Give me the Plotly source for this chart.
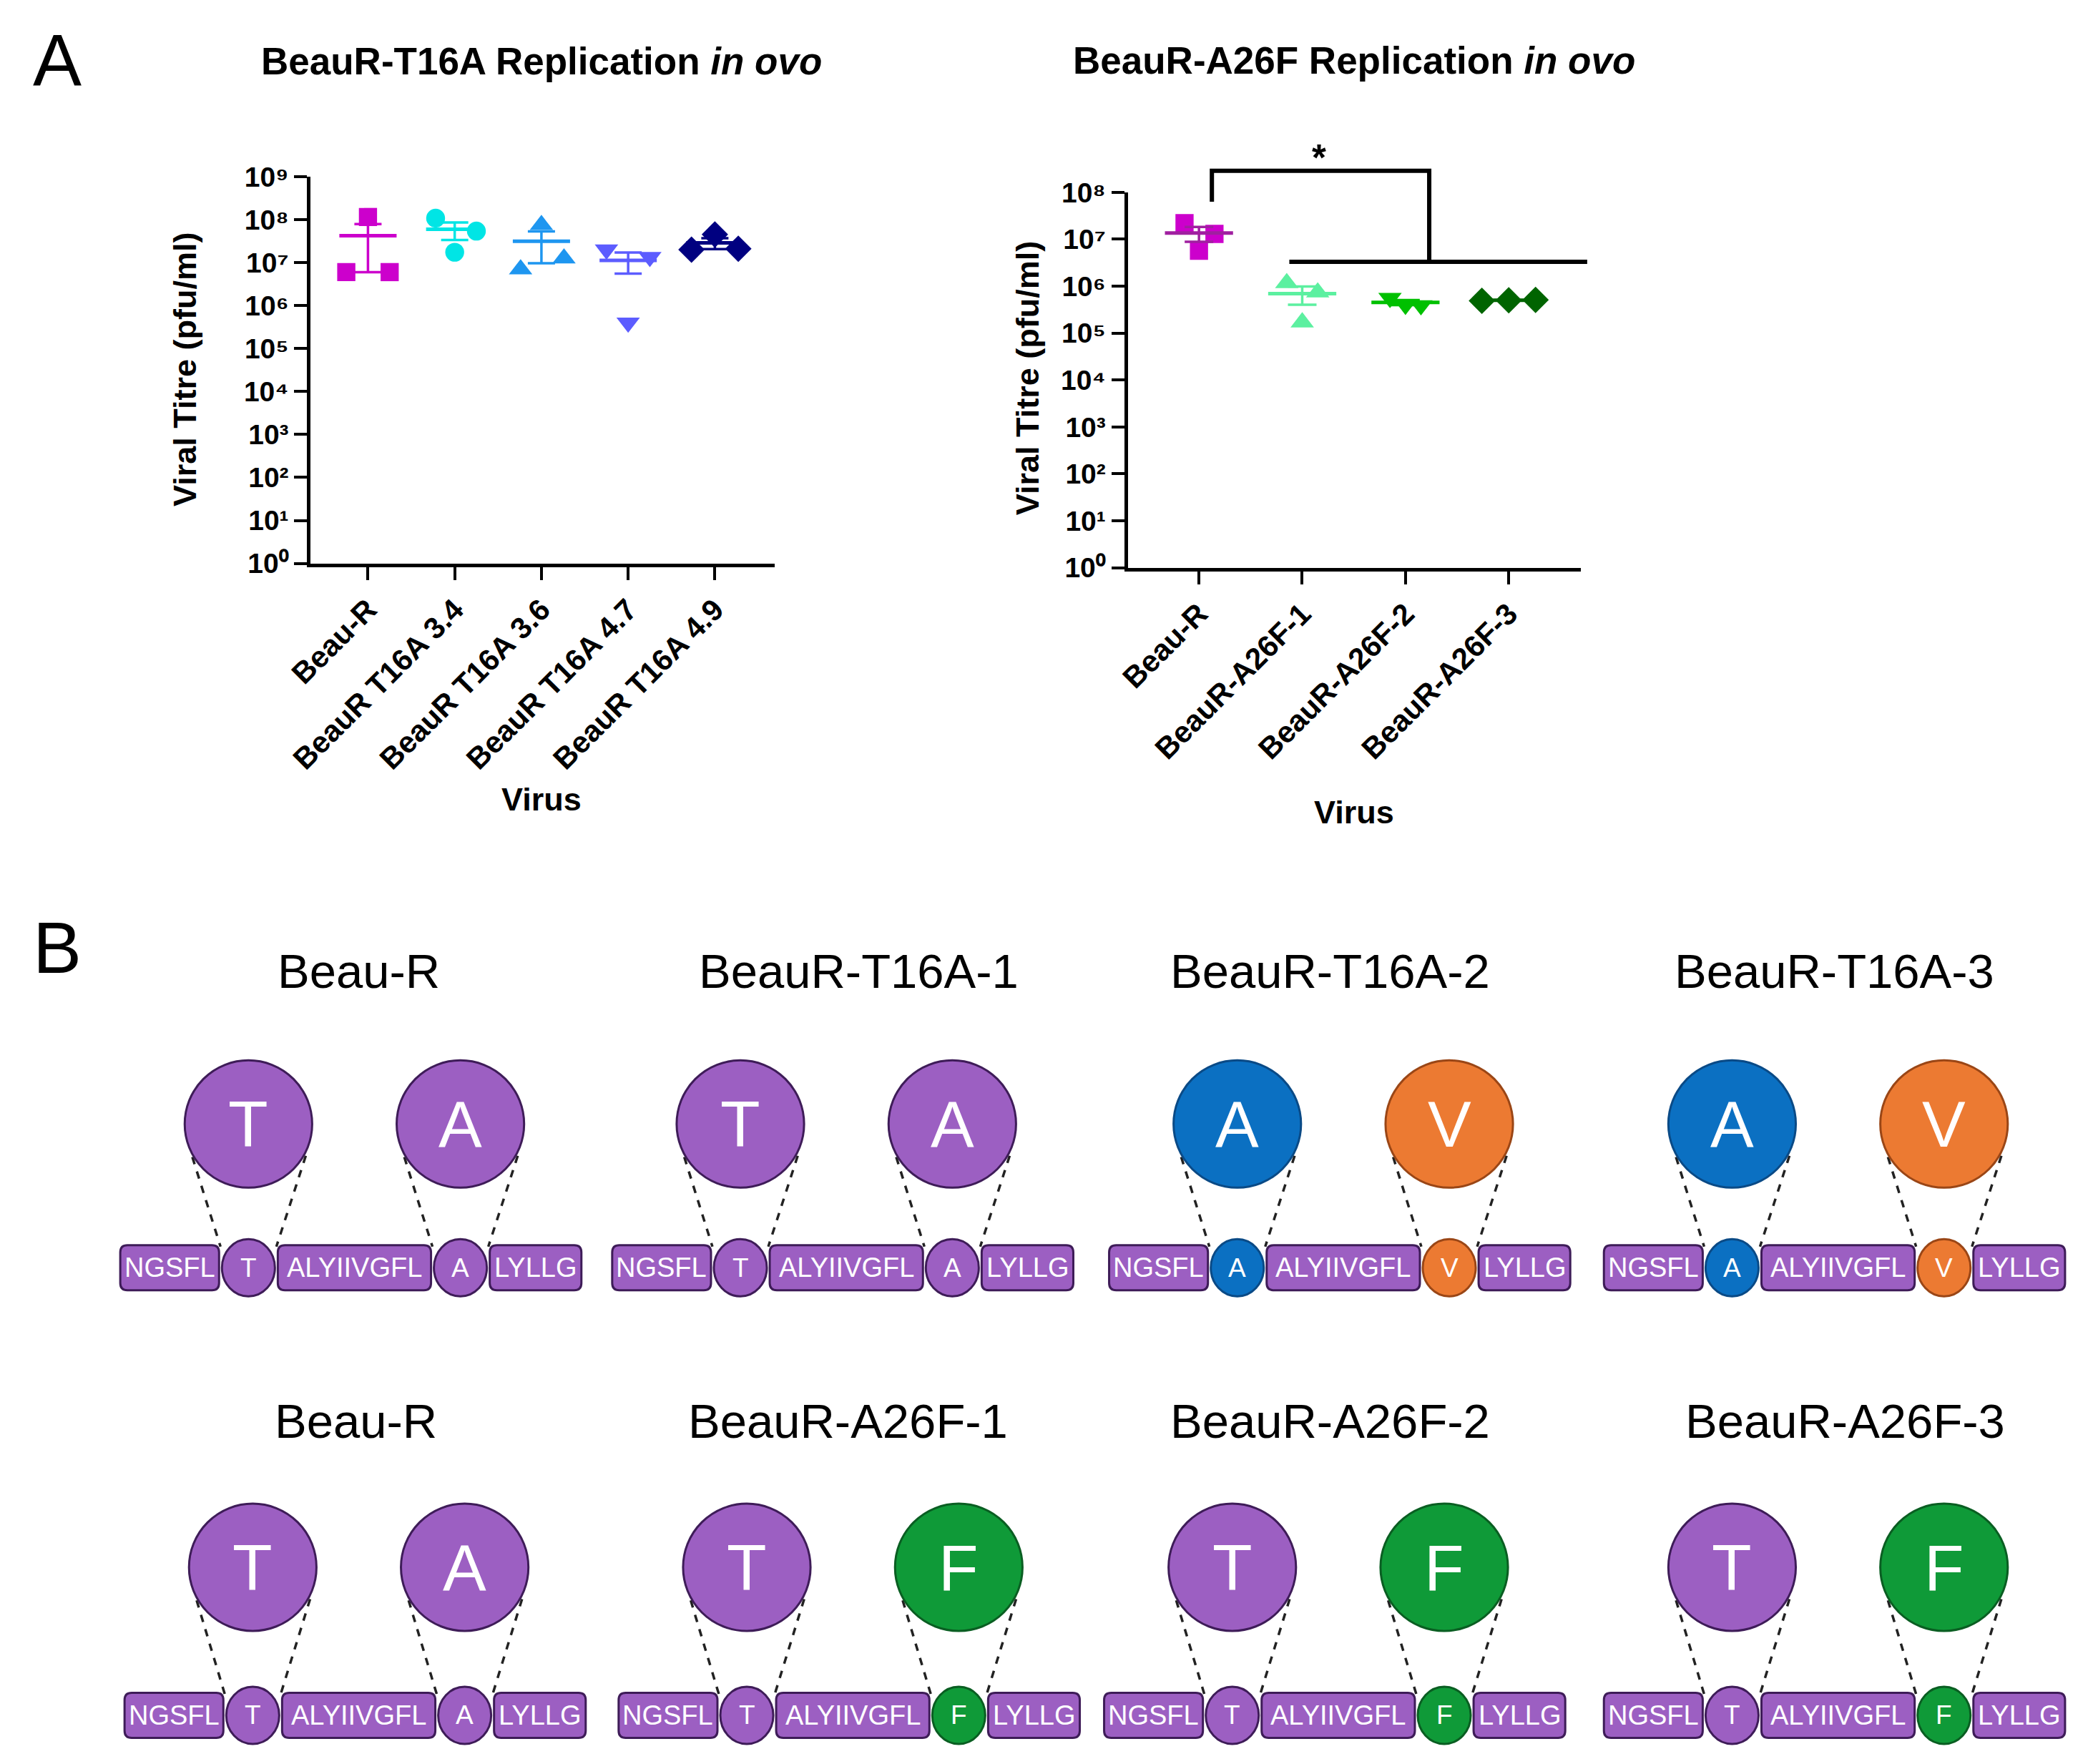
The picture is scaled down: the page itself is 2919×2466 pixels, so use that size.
import numpy as np
import plotly.graph_objects as go

W, H = 2919, 2466
FONT = "Liberation Sans, Arial, sans-serif"

# ---------------- Panel A data ----------------
t16a_labels = ["Beau-R", "BeauR T16A 3.4", "BeauR T16A 3.6", "BeauR T16A 4.7", "BeauR T16A 4.9"]
t16a_beaur = [1.15e8, 6.0e6, 6.0e6]
t16a_34 = [1.08e8, 5.4e7, 1.74e7]
t16a_36 = [7.5e7, 7.0e6, 1.25e7]
t16a_47 = [2.0e7, 1.35e7, 4.0e5]
t16a_49 = [2.0e7, 4.5e7, 2.1e7]

a26f_labels = ["Beau-R", "BeauR-A26F-1", "BeauR-A26F-2", "BeauR-A26F-3"]
a26f_beaur = [2.2e7, 1.3e7, 5.7e6]
a26f_1 = [1.17e6, 7.4e5, 1.7e5]
a26f_2 = [5.6e5, 3.9e5, 4.0e5]
a26f_3 = [4.9e5, 5.0e5, 5.1e5]

left_exponents = list(range(0, 10))
right_exponents = list(range(0, 9))
significance_text = "*"

# ---------------- Panel B data ----------------
flank_segments = ["NGSFL", "ALYIIVGFL", "LYLLG"]
row1_titles = ["Beau-R", "BeauR-T16A-1", "BeauR-T16A-2", "BeauR-T16A-3"]
row1_res16 = ["T", "T", "A", "A"]
row1_res26 = ["A", "A", "V", "V"]
row2_titles = ["Beau-R", "BeauR-A26F-1", "BeauR-A26F-2", "BeauR-A26F-3"]
row2_res16 = ["T", "T", "T", "T"]
row2_res26 = ["A", "F", "F", "F"]

SUP = "⁰¹²³⁴⁵⁶⁷⁸⁹"

# ---------------- placement (reference pixels -> paper) ----------------
OX, OY, SX, SY = 41.0, 30.0, 0.987, 0.983   # compensates the photographed page inset
K = 2 / (SX + SY)


def PX(x):
    return (x - OX) / (SX * W)


def PY(y):
    return 1 - (y - OY) / (SY * H)


# ---------------- styles ----------------
PURPLE, PURPLE_D = "#9C5FC2", "#3E1C58"
res_colors = {("16", "T"): (PURPLE, PURPLE_D), ("26", "A"): (PURPLE, PURPLE_D),
              ("16", "A"): ("#0B70C2", "#0A4A86"), ("26", "V"): ("#EC7A32", "#9A4616"),
              ("26", "F"): ("#0F9A38", "#0A5E22")}

left_style = [
    (t16a_beaur, "square", "#CC00CC", 25, [0, -0.25, 0.25]),
    (t16a_34, "circle", "#00E5E5", 26, [-0.22, 0.25, 0]),
    (t16a_36, "triangle-up", "#1E96F0", 28, [0, -0.24, 0.26]),
    (t16a_47, "triangle-down", "#5C5CFF", 28, [-0.25, 0.25, 0]),
    (t16a_49, "diamond", "#000080", 28, [-0.27, 0, 0.27]),
]
right_style = [
    (a26f_beaur, "square", "#CC00CC", 25, [-0.14, 0.15, 0], "#A020A0"),
    (a26f_1, "triangle-up", "#5CF0A0", 28, [-0.15, 0.15, 0], "#5CF0A0"),
    (a26f_2, "triangle-down", "#00C000", 28, [-0.15, 0.15, 0], "#00C000"),
    (a26f_3, "diamond", "#006400", 28, [-0.26, 0, 0.26], "#006400"),
]

fig = go.Figure()


def add_group(i, vals, sym, col, size, offs, xa, ya, linecol, cap):
    vals = np.array(vals, dtype=float)
    fig.add_trace(go.Scatter(x=[i + o for o in offs], y=vals, mode="markers", xaxis=xa, yaxis=ya,
                             marker=dict(symbol=sym, color=col, size=size * K, line=dict(width=0)),
                             showlegend=False, hoverinfo="skip"))
    m = vals.mean()
    sem = vals.std(ddof=1) / np.sqrt(len(vals))
    fig.add_trace(go.Scatter(x=[i - 0.33, i + 0.33], y=[m, m], mode="lines", xaxis=xa, yaxis=ya,
                             line=dict(color=linecol, width=5), showlegend=False, hoverinfo="skip"))
    fig.add_trace(go.Scatter(x=[i], y=[m], mode="markers", xaxis=xa, yaxis=ya,
                             marker=dict(size=1, opacity=0),
                             error_y=dict(type="data", array=[sem], color=linecol, thickness=3.5, width=cap),
                             showlegend=False, hoverinfo="skip"))


for i, (vals, sym, col, size, offs) in enumerate(left_style):
    add_group(i, vals, sym, col, size, offs, "x", "y", col, 19)
for i, (vals, sym, col, size, offs, lc) in enumerate(right_style):
    add_group(i, vals, sym, col, size, offs, "x2", "y2", lc, 20)

# axis geometry (reference pixels)
LX0, LX1, LYT, LYB = 432, 1080, 248, 789
RX0, RX1, RYT, RYB = 1573, 2206, 270, 795
lxr = [-0.66, 4.69]
rxr = [-0.69, 3.70]

axis_common = dict(showgrid=False, zeroline=False, showline=True, linecolor="black", linewidth=5,
                   ticks="outside", ticklen=round(18 * K), tickwidth=4, tickcolor="black")
xtickfont = dict(size=round(41 * K), family=FONT, weight="bold", color="black")
ytickfont = dict(size=round(38 * K), family=FONT, weight="bold", color="black")


def power_label(k):
    return "10" + SUP[k]


fig.update_layout(
    width=W, height=H, margin=dict(l=0, r=0, t=0, b=0),
    paper_bgcolor="white", plot_bgcolor="white", showlegend=False,
    font=dict(family=FONT, color="black"),
    xaxis=dict(domain=[PX(LX0), PX(LX1)], range=lxr, anchor="y", tickvals=list(range(len(t16a_labels))),
               ticktext=t16a_labels, tickangle=-45, tickfont=xtickfont, **axis_common),
    yaxis=dict(domain=[PY(LYB), PY(LYT)], type="log", range=[0, 9], anchor="x",
               tickvals=[10 ** k for k in left_exponents],
               ticktext=[power_label(k) for k in left_exponents],
               tickfont=ytickfont, **axis_common),
    xaxis2=dict(domain=[PX(RX0), PX(RX1)], range=rxr, anchor="y2", tickvals=list(range(len(a26f_labels))),
                ticktext=a26f_labels, tickangle=-45, tickfont=xtickfont, **axis_common),
    yaxis2=dict(domain=[PY(RYB), PY(RYT)], type="log", range=[0, 8], anchor="x2",
                tickvals=[10 ** k for k in right_exponents],
                ticktext=[power_label(k) for k in right_exponents],
                tickfont=ytickfont, **axis_common),
)


def right_paper_x(xv):
    return PX(RX0 + (xv - rxr[0]) / (rxr[1] - rxr[0]) * (RX1 - RX0))


def right_paper_y(logv):
    return PY(RYB - logv / 8 * (RYB - RYT))


shapes = []
ann = []

# significance bracket (right chart)
br_left_x, br_top, br_left_bottom = 0.125, 8.46, 7.80
br_right_x, br_join = 2.23, 6.52
br_span = (0.875, 3.76)
bracket_pts = [(br_left_x, br_left_bottom), (br_left_x, br_top), (br_right_x, br_top), (br_right_x, br_join)]
path = "M " + " L ".join(f"{right_paper_x(a)},{right_paper_y(b)}" for a, b in bracket_pts)
shapes.append(dict(type="path", xref="paper", yref="paper", path=path,
                   line=dict(color="black", width=6)))
shapes.append(dict(type="line", xref="paper", yref="paper",
                   x0=right_paper_x(br_span[0]), x1=right_paper_x(br_span[1]),
                   y0=right_paper_y(br_join), y1=right_paper_y(br_join), line=dict(color="black", width=6)))
ann.append(dict(text=f"<b>{significance_text}</b>", x=right_paper_x(1.16), y=right_paper_y(9.2),
                xref="paper", yref="paper", showarrow=False, font=dict(size=round(50 * K), family=FONT)))


def text(t, x, y, size, angle=0, color="black", xanchor="center", weight="normal"):
    ann.append(dict(text=t, x=PX(x), y=PY(y), xref="paper", yref="paper", showarrow=False,
                    textangle=angle, xanchor=xanchor, yanchor="middle",
                    font=dict(size=round(size * K), family=FONT, color=color, weight=weight)))


text("A", 78, 86, 100)
text("B", 78, 1327, 100)
text("BeauR-T16A Replication <i>in ovo</i>", 754, 87, 52, weight="bold")
text("BeauR-A26F Replication <i>in ovo</i>", 1889, 86, 52, weight="bold")
text("Viral Titre (pfu/ml)", 257, 518, 44, angle=-90, weight="bold")
text("Viral Titre (pfu/ml)", 1433, 530, 44, angle=-90, weight="bold")
text("Virus", 754, 1119, 44, weight="bold")
text("Virus", 1889, 1137, 44, weight="bold")

# ---------------- Panel B diagrams ----------------
seg_w = [138, 214, 128]
circ_w, circ_h = 74, 80
gap = 4
box_h = 63
BIG_R = 89


def rrect(x0, y0, x1, y1, r, fill, line):
    pts = (f"M {PX(x0 + r)},{PY(y0)} L {PX(x1 - r)},{PY(y0)} Q {PX(x1)},{PY(y0)} {PX(x1)},{PY(y0 + r)} "
           f"L {PX(x1)},{PY(y1 - r)} Q {PX(x1)},{PY(y1)} {PX(x1 - r)},{PY(y1)} "
           f"L {PX(x0 + r)},{PY(y1)} Q {PX(x0)},{PY(y1)} {PX(x0)},{PY(y1 - r)} "
           f"L {PX(x0)},{PY(y0 + r)} Q {PX(x0)},{PY(y0)} {PX(x0 + r)},{PY(y0)} Z")
    return dict(type="path", xref="paper", yref="paper", path=pts, fillcolor=fill,
                line=dict(color=line, width=3))


def ellipse(cx, cy, rx, ry, fill, line):
    return dict(type="circle", xref="paper", yref="paper", x0=PX(cx - rx), x1=PX(cx + rx),
                y0=PY(cy + ry), y1=PY(cy - ry), fillcolor=fill, line=dict(color=line, width=3))


def diagram(x0, title, title_x, r16, r26, title_y, big_cy, seq_cy):
    text(title, title_x, title_y, 66)
    top, bot = seq_cy - box_h / 2, seq_cy + box_h / 2
    xs = []
    cur = x0
    for k in range(3):
        xs.append(("box", cur, cur + seg_w[k], flank_segments[k]))
        cur += seg_w[k] + gap
        if k < 2:
            xs.append(("res", cur, cur + circ_w, (("16", r16), ("26", r26))[k]))
            cur += circ_w + gap
    circles = [(a, b, lab) for kind, a, b, lab in xs if kind == "res"]
    for a, b, (pos, res) in circles:
        cx = (a + b) / 2
        shapes.append(dict(type="line", xref="paper", yref="paper",
                           x0=PX(cx - 0.88 * BIG_R), y0=PY(big_cy + 0.52 * BIG_R),
                           x1=PX(a - 2), y1=PY(top + 2), line=dict(color="#222222", width=3.5, dash="dash")))
        shapes.append(dict(type="line", xref="paper", yref="paper",
                           x0=PX(cx + 0.9 * BIG_R), y0=PY(big_cy + 0.5 * BIG_R),
                           x1=PX(b + 2), y1=PY(top + 2), line=dict(color="#222222", width=3.5, dash="dash")))
    for kind, a, b, lab in xs:
        if kind == "box":
            shapes.append(rrect(a, top, b, bot, 10, PURPLE, PURPLE_D))
            text(lab, (a + b) / 2, seq_cy, 37, color="white")
    for a, b, (pos, res) in circles:
        fill, line = res_colors[(pos, res)]
        cx = (a + b) / 2
        shapes.append(ellipse(cx, seq_cy, circ_w / 2, circ_h / 2, fill, line))
        text(res, cx, seq_cy, 36, color="white")
        shapes.append(ellipse(cx, big_cy, BIG_R, BIG_R, fill, line))
        text(res, cx, big_cy, 90, color="white")


row1_x0 = [166, 853, 1547, 2238]
row2_x0 = [172, 862, 1540, 2238]
row1_title_x = [499, 1197, 1856, 2560]
row2_title_x = [495, 1182, 1856, 2575]
for j in range(4):
    diagram(row1_x0[j], row1_titles[j], row1_title_x[j], row1_res16[j], row1_res26[j], 1359, 1573, 1774)
    diagram(row2_x0[j], row2_titles[j], row2_title_x[j], row2_res16[j], row2_res26[j], 1988, 2193, 2400)

fig.update_layout(shapes=shapes, annotations=ann)
fig.write_html("out.html")
